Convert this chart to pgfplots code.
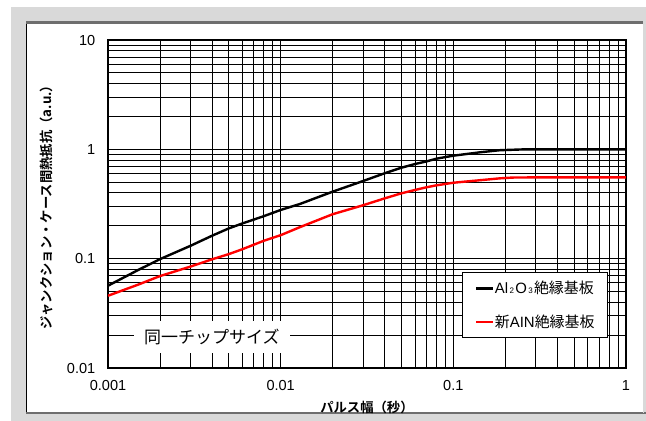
\documentclass[border=0pt]{standalone}
\usepackage{fontspec}
\setmainfont{Liberation Sans}
\newfontfamily\jp{Noto Sans CJK JP}[BoldFont={Noto Sans CJK JP Bold}]
\usepackage{pgfplots}
\pgfplotsset{compat=1.18}
\definecolor{bggray}{RGB}{217,217,217}
\definecolor{bordergray}{RGB}{110,110,110}
\begin{document}
\begin{tikzpicture}
\begin{scope}[x=0.75pt,y=-0.75pt]
\path[use as bounding box] (0,0) rectangle (646,421);
\fill[white] (0,0) rectangle (646,421);
\fill[bggray] (11,7) rectangle (646,421);
\fill[white] (26,22) rectangle (643,413);
\draw[black,line width=0.8pt] (26.5,22) -- (26.5,413);
\draw[bordergray,line width=1.6pt] (26,22.5) -- (643,22.5);
\draw[bordergray,line width=1.6pt] (26,413) -- (646,413);
\draw[gray!30,line width=0.75pt] (643.5,22) -- (643.5,413);
\end{scope}
\begin{axis}[
  at={(81pt,-276pt)}, anchor=south west,
  scale only axis, width=388.5pt, height=246pt,
  xmode=log, ymode=log,
  xmin=0.001, xmax=1, ymin=0.01, ymax=10,
  xtick={0.001,0.01,0.1,1}, xticklabels={0.001,0.01,0.1,1},
  ytick={0.01,0.1,1,10}, yticklabels={0.01,0.1,1,10},
  minor xtick={0.002,0.003,0.004,0.005,0.006,0.007,0.008,0.009,0.02,0.03,0.04,0.05,0.06,0.07,0.08,0.09,0.2,0.3,0.4,0.5,0.6,0.7,0.8,0.9},
  minor ytick={0.02,0.03,0.04,0.05,0.06,0.07,0.08,0.09,0.2,0.3,0.4,0.5,0.6,0.7,0.8,0.9,2,3,4,5,6,7,8,9},
  grid=both,
  major grid style={black,line width=0.65pt},
  minor grid style={black,line width=0.65pt},
  major tick length=0pt, minor tick length=0pt,
  axis line style={black,line width=0.9pt},
  /pgf/number format/assume math mode=true,
  ticklabel style={font=\fontsize{10.9}{12}\selectfont},
  xticklabel style={yshift=-6pt},
  yticklabel style={xshift=-6pt},
  xlabel={\jp\bfseries パルス幅（秒）},
  ylabel={\jp\bfseries ジャンクション・ケース間熱抵抗（a.u.）},
  xlabel style={at={(axis description cs:0.5,-0.1189)}, anchor=center, font=\fontsize{10}{12}\selectfont},
  ylabel style={at={(axis description cs:-0.1197,0.5)}, anchor=center, rotate=0, font=\fontsize{10}{12}\selectfont},
  legend style={at={(axis description cs:0.683,0.091)}, anchor=south west,
    draw=black, fill=white, line width=0.6pt,
    font=\fontsize{11.2}{13}\selectfont,
    inner xsep=9.5pt, inner ysep=6pt, row sep=13pt,
    nodes={inner sep=0.5pt}},
  legend cell align=left,
  legend image code/.code={\draw[#1,line width=1.8pt] (0pt,0pt) -- (12.75pt,0pt);},
]
\addplot[black, line width=1.8pt] coordinates {
(0.001,0.0566) (0.0015,0.079) (0.002,0.099) (0.003,0.131) (0.004,0.162) (0.005,0.189)
(0.006,0.210) (0.008,0.245) (0.01,0.279) (0.0129,0.316) (0.02,0.41) (0.03,0.513)
(0.04,0.604) (0.05,0.679) (0.06,0.734) (0.07,0.776) (0.08,0.822) (0.1,0.875)
(0.143,0.94) (0.186,0.982) (0.25,0.998) (0.3,1.0) (0.5,1.0) (1,1.0)};
\addlegendentry{Al{\fontsize{6}{6}\selectfont\,2\,}O{\fontsize{6}{6}\selectfont\,3\,}{\jp 絶縁基板}}
\addplot[red, line width=1.8pt] coordinates {
(0.001,0.0458) (0.0015,0.058) (0.002,0.0693) (0.003,0.0846) (0.004,0.0986) (0.005,0.110)
(0.006,0.122) (0.008,0.146) (0.01,0.164) (0.0129,0.194) (0.02,0.255) (0.03,0.308)
(0.04,0.356) (0.05,0.396) (0.06,0.425) (0.07,0.45) (0.08,0.469) (0.1,0.495)
(0.143,0.522) (0.186,0.543) (0.22,0.552) (0.3,0.554) (0.5,0.554) (1,0.554)};
\addlegendentry{{\jp 新}AIN{\jp 絶縁基板}}
\node[fill=white, inner xsep=8pt, inner ysep=6pt, font=\jp\fontsize{12.75}{14}\selectfont] at (axis cs:0.0040,0.0192) {同一チップサイズ};
\end{axis}
\end{tikzpicture}
\end{document}
